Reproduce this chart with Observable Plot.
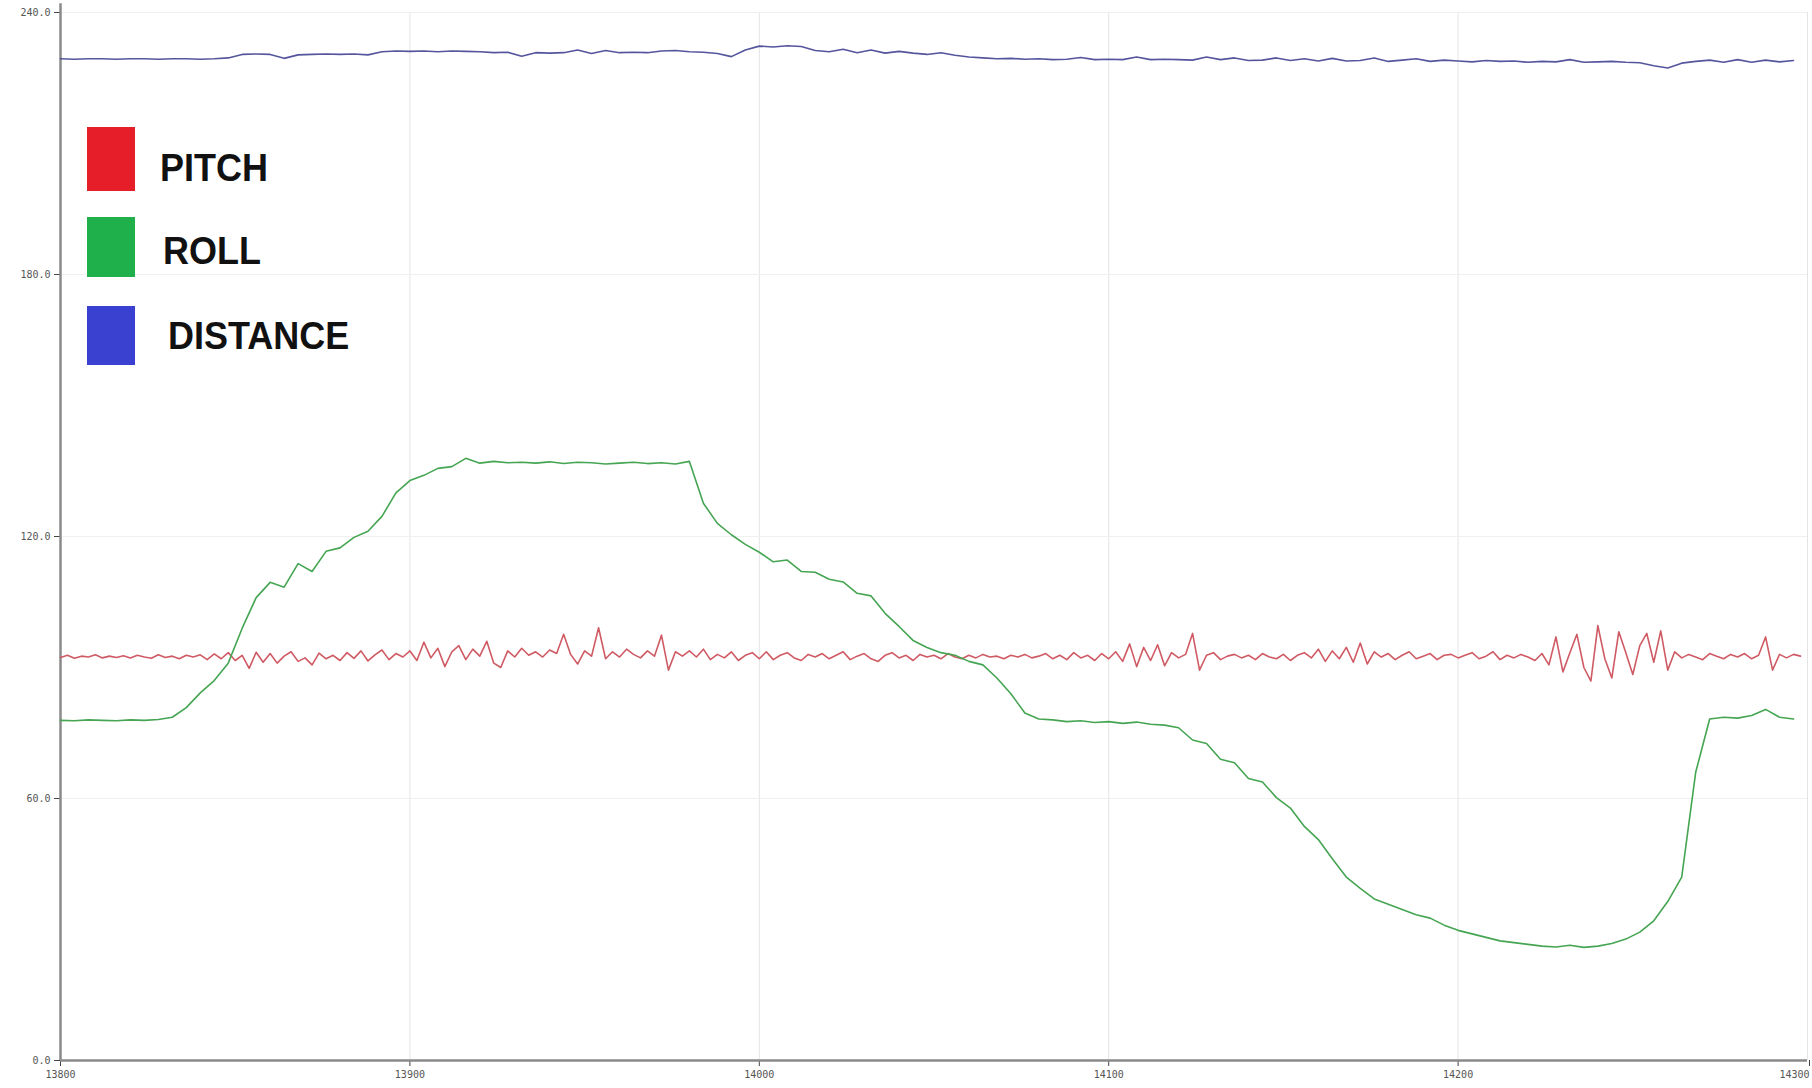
<!DOCTYPE html>
<html><head><meta charset="utf-8">
<script src="https://cdn.jsdelivr.net/npm/d3@7"></script>
<script src="https://cdn.jsdelivr.net/npm/@observablehq/plot@0.6"></script>
<style>
html,body{margin:0;padding:0;background:#fff;}
#wrap{position:relative;width:1812px;height:1088px;overflow:hidden;background:#fff;}
.lbl{position:absolute;font-family:"Liberation Sans",Arial,sans-serif;font-weight:bold;font-size:36px;color:#111;line-height:1;transform-origin:left center;}
.sw{position:absolute;}
</style></head><body><div id="wrap"></div>
<script>
const seriesNames = ["PITCH", "ROLL", "DISTANCE"];
const lineColors = ["#cf5a64", "#45a552", "#55559e"];
const legendColors = ["#e61e2a", "#1fb04b", "#3a40d0"];
const xTicks = [13800, 13900, 14000, 14100, 14200, 14300];
const yTicks = [0, 60, 120, 180, 240];

const pitchStart = 13800, pitchStep = 2;
const pitch = [
  92.3, 92.8, 92.1, 92.6, 92.4, 92.9, 92.2, 92.6, 92.3, 92.7,
  92.2, 92.8, 92.4, 92.1, 92.9, 92.3, 92.6, 92.0, 92.8, 92.4,
  92.9, 91.8, 93.1, 92.0, 93.4, 91.6, 92.8, 89.8, 93.5, 91.2,
  93.2, 91.0, 92.6, 93.6, 91.4, 92.2, 90.6, 93.3, 92.0, 92.8,
  91.6, 93.4, 92.1, 93.8, 91.5, 92.9, 94.0, 91.8, 93.2, 92.4,
  93.8, 91.6, 95.8, 92.2, 94.4, 90.2, 93.6, 95.0, 91.8, 94.2,
  92.6, 96.0, 91.0, 90.0, 93.8, 92.4, 94.4, 92.8, 93.6, 92.4,
  94.0, 93.2, 97.6, 93.0, 90.8, 93.8, 92.6, 99.1, 92.0, 93.6,
  92.4, 94.2, 93.0, 92.2, 93.8, 92.6, 97.4, 89.4, 93.6, 92.6,
  93.8, 92.4, 94.2, 91.8, 93.0, 92.2, 93.6, 91.6, 92.8, 93.4,
  92.0, 93.6, 91.8, 92.8, 93.4, 92.2, 91.6, 93.0, 92.4, 93.2,
  92.0, 92.8, 93.6, 91.8, 92.6, 93.2, 92.0, 91.4, 92.8, 93.4,
  92.2, 92.8, 91.6, 93.0, 92.4, 92.8, 92.0, 93.2, 92.4, 92.0,
  92.8, 92.2, 93.0, 92.4, 92.6, 92.0, 92.8, 92.4, 93.0, 92.2,
  92.6, 93.2, 92.0, 92.8, 91.8, 93.4, 92.2, 92.8, 91.6, 93.2,
  92.0, 93.6, 91.4, 95.4, 90.2, 94.6, 91.6, 95.2, 90.4, 93.4,
  92.2, 93.0, 97.8, 89.4, 92.8, 93.4, 91.8, 92.6, 93.0, 92.2,
  92.8, 91.8, 93.2, 92.4, 92.0, 93.0, 91.6, 92.8, 93.4, 92.2,
  94.2, 91.4, 93.8, 92.0, 94.6, 91.2, 95.6, 90.8, 93.6, 92.4,
  93.2, 91.8, 92.8, 93.6, 92.0, 92.6, 93.2, 91.8, 92.8, 93.0,
  92.2, 92.8, 93.4, 92.0, 92.6, 93.6, 91.8, 92.8, 92.2, 93.0,
  92.4, 91.6, 93.2, 90.6, 97.0, 89.0, 93.4, 97.6, 90.0, 86.9,
  99.6, 92.0, 87.6, 98.2, 93.4, 88.4, 95.0, 97.8, 91.2, 98.4,
  89.4, 93.6, 92.2, 93.0, 92.4, 91.8, 93.2, 92.6, 92.0, 93.0,
  92.4, 93.2, 92.0, 92.8, 97.0, 89.4, 93.0, 92.2, 93.0, 92.6
];

const rollStart = 13800, rollStep = 4;
const roll = [
  77.9, 77.8, 78.0, 77.9, 77.8, 78.0, 77.9, 78.1, 78.6, 80.8,
  84.2, 87.0, 91.0, 99.0, 106.0, 109.5, 108.4, 113.8, 112.0, 116.6,
  117.4, 119.8, 121.2, 124.6, 130.0, 132.8, 134.0, 135.6, 136.0, 137.9,
  136.8, 137.2, 136.9, 137.0, 136.8, 137.1, 136.7, 137.0, 136.9, 136.6,
  136.8, 137.0, 136.7, 136.9, 136.6, 137.2, 127.6, 123.0, 120.4, 118.2,
  116.4, 114.2, 114.6, 112.0, 111.8, 110.2, 109.6, 107.0, 106.4, 102.4,
  99.4, 96.2, 94.6, 93.4, 92.8, 91.4, 90.6, 87.6, 84.0, 79.6,
  78.2, 78.0, 77.6, 77.8, 77.4, 77.6, 77.2, 77.5, 77.0, 76.8,
  76.2, 73.4, 72.6, 69.0, 68.2, 64.6, 63.8, 60.2, 57.8, 53.6,
  50.6, 46.2, 42.0, 39.4, 37.0, 35.8, 34.6, 33.4, 32.6, 31.0,
  29.8, 29.0, 28.2, 27.4, 27.0, 26.6, 26.2, 26.0, 26.4, 25.9,
  26.2, 26.8, 27.8, 29.4, 32.0, 36.4, 42.0, 66.0, 78.2, 78.6,
  78.4, 79.0, 80.4, 78.6, 78.2
];

const distStart = 13800, distStep = 4;
const distance = [
  229.4, 229.3, 229.4, 229.4, 229.3, 229.4, 229.4, 229.3, 229.4, 229.4,
  229.3, 229.4, 229.6, 230.4, 230.5, 230.4, 229.5, 230.3, 230.4, 230.5,
  230.4, 230.5, 230.3, 231.0, 231.2, 231.1, 231.2, 231.0, 231.2, 231.1,
  231.0, 230.8, 230.9, 230.0, 230.8, 230.7, 230.8, 231.4, 230.6, 231.3,
  230.8, 230.9, 230.8, 231.2, 231.3, 231.0, 230.9, 230.6, 229.9, 231.4,
  232.3, 232.1, 232.4, 232.2, 231.3, 231.0, 231.6, 230.8, 231.4, 230.7,
  231.1, 230.7, 230.4, 230.8, 230.2, 229.8, 229.6, 229.4, 229.5, 229.3,
  229.4, 229.2, 229.3, 229.7, 229.2, 229.3, 229.2, 229.8, 229.2, 229.3,
  229.2, 229.1, 229.8, 229.2, 229.6, 229.0, 229.1, 229.6, 229.0, 229.4,
  228.9, 229.5, 228.9, 229.0, 229.6, 228.8, 229.1, 229.4, 228.8, 229.1,
  228.9, 228.7, 229.0, 228.8, 228.9, 228.6, 228.8, 228.7, 229.2, 228.6,
  228.7, 228.8, 228.6, 228.5, 227.8, 227.3, 228.4, 228.8, 229.1, 228.6,
  229.2, 228.6, 229.1, 228.7, 229.0
];

const toRows = (arr, start, step) => arr.map((v, i) => ({t: start + i * step, v}));
const series = [
  toRows(pitch, pitchStart, pitchStep),
  toRows(roll, rollStart, rollStep),
  toRows(distance, distStart, distStep)
];

const lastTick = xTicks[xTicks.length - 1];
const chart = Plot.plot({
  width: 1812,
  height: 1088,
  marginLeft: 60,
  marginRight: 5,
  marginTop: 12,
  marginBottom: 28,
  style: {background: "#fff", fontFamily: "'DejaVu Sans Mono', monospace", fontSize: "10px", color: "#555"},
  x: {domain: [13800, 14300]},
  y: {domain: [0, 240]},
  marks: [
    Plot.ruleX(xTicks.slice(1), {stroke: "#e4e4e4", strokeWidth: 1}),
    Plot.ruleY(yTicks.slice(1), {stroke: "#f0f0f0", strokeWidth: 1}),
    Plot.axisX({ticks: xTicks.slice(0, -1), tickFormat: d => String(d), tickSize: 6, tickPadding: 4, label: null, stroke: "#444"}),
    Plot.axisX({ticks: [lastTick], tickFormat: d => String(d), tickSize: 6, tickPadding: 4, label: null, stroke: "#444", textAnchor: "end", dx: 2}),
    Plot.axisY({ticks: yTicks, tickFormat: d => d.toFixed(1), tickSize: 6, tickPadding: 4, label: null, stroke: "#444"}),
    Plot.ruleX([13800], {y1: 0, y2: 242, stroke: "#8a8a8a", strokeWidth: 2.5}),
    Plot.ruleY([0], {stroke: "#8a8a8a", strokeWidth: 2.5}),
    ...series.map((rows, k) => Plot.line(rows, {x: "t", y: "v", stroke: lineColors[k], strokeWidth: 1.6, clip: false}))
  ]
});

const wrap = document.getElementById("wrap");
wrap.appendChild(chart);

// legend overlay
const swatchTops = [127, 217, 306];
const swatchHeights = [64, 60, 59];
const textLefts = [160, 163, 168];
const textCenters = [168, 251, 336];
seriesNames.forEach((name, k) => {
  const sw = document.createElement("div");
  sw.className = "sw";
  sw.style.left = "87px";
  sw.style.top = swatchTops[k] + "px";
  sw.style.width = "48px";
  sw.style.height = swatchHeights[k] + "px";
  sw.style.background = legendColors[k];
  wrap.appendChild(sw);
  const t = document.createElement("div");
  t.className = "lbl";
  t.textContent = name;
  t.style.left = textLefts[k] + "px";
  t.style.top = (textCenters[k] - 18) + "px";
  t.style.transform = "scaleY(1.08)";
  wrap.appendChild(t);
});
</script></body></html>
